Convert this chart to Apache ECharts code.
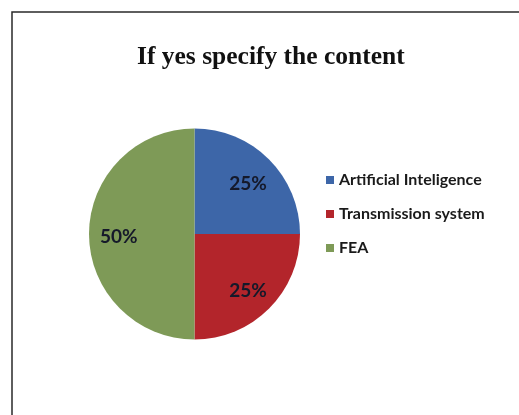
<!DOCTYPE html>
<html>
<head>
<meta charset="utf-8">
<script src="https://cdn.jsdelivr.net/npm/echarts@6/dist/echarts.min.js"></script>
<style>
html,body{margin:0;padding:0;background:#fff;}
#chart{width:519px;height:415px;}
</style>
</head>
<body>
<div id="chart"></div>
<script>
const titleText = 'If yes specify the content';
const categories = ['Artificial Inteligence', 'Transmission system', 'FEA'];
const values = [25, 25, 50];
const colors = ['#3d66a8', '#b3252b', '#7e9a57'];

const chart = echarts.init(document.getElementById('chart'));
const pieData = categories.map((c, i) => ({ name: c, value: values[i], itemStyle: { color: colors[i] } }));
const labelData = categories.map((c, i) => ({ name: c, value: values[i] }));

chart.setOption({
  animation: false,
  backgroundColor: '#fff',
  graphic: [{
    type: 'rect',
    shape: { x: 12, y: 12, width: 620, height: 520 },
    style: { fill: 'none', stroke: '#2a2a2a', lineWidth: 1.5 },
    z: 100
  }],
  title: {
    text: titleText,
    left: 137,
    top: 44,
    padding: 0,
    textStyle: { fontFamily: 'Liberation Serif', fontWeight: 'bold', fontSize: 25.5, color: '#111' }
  },
  legend: {
    orient: 'vertical',
    left: 321,
    top: 167,
    itemWidth: 8,
    itemHeight: 8,
    itemGap: 18,
    icon: 'rect',
    data: categories,
    textStyle: { fontFamily: 'Lato', fontWeight: 'bold', fontSize: 16, lineHeight: 16, color: '#1a1a1a', padding: [0, 0, 0, 0] }
  },
  series: [{
    type: 'pie',
    center: [194.5, 234],
    radius: [0, 105.5],
    startAngle: 90,
    clockwise: true,
    label: { show: false },
    labelLine: { show: false },
    emphasis: { disabled: true },
    data: pieData
  }, {
    type: 'pie',
    center: [194.5, 235],
    radius: [40, 105.5],
    startAngle: 90,
    clockwise: true,
    silent: true,
    itemStyle: { color: 'rgba(0,0,0,0)' },
    label: {
      show: true,
      position: 'inside',
      formatter: '{d}%',
      fontFamily: 'Lato',
      fontWeight: 'bold',
      fontSize: 19,
      color: '#15192a',
      offset: [0, 2]
    },
    labelLine: { show: false },
    emphasis: { disabled: true },
    data: labelData
  }]
});
</script>
</body>
</html>
